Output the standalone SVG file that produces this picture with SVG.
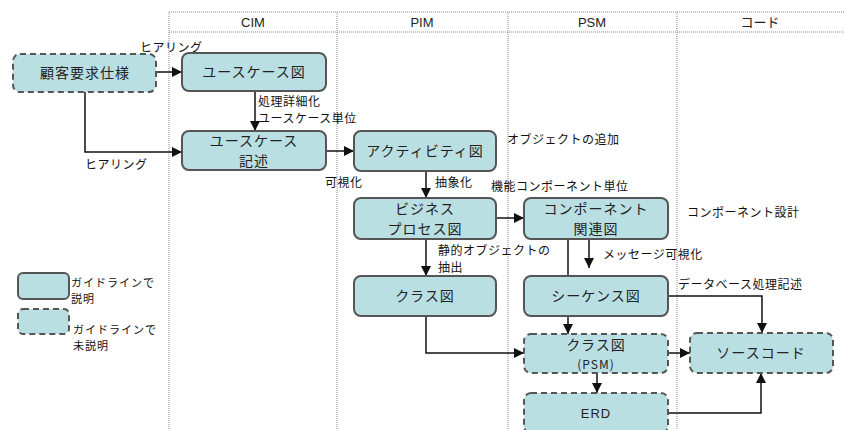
<svg xmlns="http://www.w3.org/2000/svg" width="844" height="430" viewBox="0 0 844 430">
<style>
.grid{stroke:#8a8a8a;stroke-width:1;stroke-dasharray:1 1;fill:none}
.box{fill:#b9dfe2;stroke:#555;stroke-width:2}
.dash{stroke-dasharray:6 4}
.bt{font-family:"Noto Sans CJK JP","Noto Sans",sans-serif;font-size:14px;letter-spacing:1px;fill:#222;text-anchor:middle}
.lb{font-family:"Noto Sans CJK JP","Noto Sans",sans-serif;font-size:12px;letter-spacing:0.5px;fill:#111}
.lg{font-family:"Noto Sans CJK JP","Noto Sans",sans-serif;font-size:11px;letter-spacing:1px;fill:#111}
.hd{font-family:"Liberation Sans","Noto Sans CJK JP",sans-serif;font-size:13px;fill:#222;text-anchor:middle}
.c{fill:none;stroke:#111;stroke-width:1.5}
</style>
<defs>
<marker id="ah" viewBox="0 0 10 10" refX="10" refY="5" markerWidth="10" markerHeight="10" markerUnits="userSpaceOnUse" orient="auto">
<path d="M0,0 L10,5 L0,10 z" fill="#111"/>
</marker>
</defs>
<rect width="844" height="430" fill="#fff"/>
<g id="grid">
<line class="grid" x1="169" y1="12" x2="844" y2="12"/>
<line class="grid" x1="169" y1="32" x2="844" y2="32"/>
<line class="grid" x1="169" y1="12" x2="169" y2="430"/>
<line class="grid" x1="337" y1="12" x2="337" y2="430"/>
<line class="grid" x1="508" y1="12" x2="508" y2="430"/>
<line class="grid" x1="677" y1="12" x2="677" y2="430"/>
<text class="hd" x="253" y="27">CIM</text>
<text class="hd" x="422" y="27">PIM</text>
<text class="hd" x="592" y="27">PSM</text>
<text class="hd" x="760" y="27">コード</text>
</g>
<g id="connectors">
<line class="c" x1="156" y1="72" x2="182" y2="72" marker-end="url(#ah)"/>
<polyline class="c" points="85,92 85,152 182,152" marker-end="url(#ah)"/>
<line class="c" x1="255" y1="91" x2="255" y2="131" marker-end="url(#ah)"/>
<line class="c" x1="326" y1="151" x2="354" y2="151" marker-end="url(#ah)"/>
<line class="c" x1="426" y1="171" x2="426" y2="198" marker-end="url(#ah)"/>
<line class="c" x1="496" y1="218" x2="524" y2="218" marker-end="url(#ah)"/>
<line class="c" x1="426" y1="239" x2="426" y2="276" marker-end="url(#ah)"/>
<line class="c" x1="568" y1="239" x2="568" y2="276"/>
<line class="c" x1="589" y1="239" x2="589" y2="268" marker-end="url(#ah)"/>
<polyline class="c" points="668,296 762,296 762,333" marker-end="url(#ah)"/>
<line class="c" x1="568" y1="316" x2="568" y2="334" marker-end="url(#ah)"/>
<polyline class="c" points="426,316 426,353 524,353" marker-end="url(#ah)"/>
<line class="c" x1="668" y1="353" x2="690" y2="353" marker-end="url(#ah)"/>
<line class="c" x1="597" y1="373" x2="597" y2="393" marker-end="url(#ah)"/>
<polyline class="c" points="668,413 761,413 761,373" marker-end="url(#ah)"/>
</g>
<g id="labels">
<text class="lb" x="140" y="52">ヒアリング</text>
<text class="lb" x="85" y="169">ヒアリング</text>
<text class="lb" x="258" y="106">処理詳細化</text>
<text class="lb" x="258" y="123">ユースケース単位</text>
<text class="lb" x="325" y="187">可視化</text>
<text class="lb" x="435" y="187">抽象化</text>
<text class="lb" x="491" y="191">機能コンポーネント単位</text>
<text class="lb" x="507" y="144">オブジェクトの追加</text>
<text class="lb" x="687" y="217">コンポーネント設計</text>
<text class="lb" x="438" y="255">静的オブジェクトの</text>
<text class="lb" x="438" y="272">抽出</text>
<text class="lb" x="603" y="259">メッセージ可視化</text>
<text class="lb" x="678" y="289">データベース処理記述</text>
</g>
<g id="n-kokyaku"><rect class="box dash" x="13" y="54" width="143" height="38" rx="7"/><text class="bt" x="85" y="78">顧客要求仕様</text></g>
<g id="n-usecase"><rect class="box" x="182" y="53" width="144" height="38" rx="7"/><text class="bt" x="254" y="77">ユースケース図</text></g>
<g id="n-usecase-desc"><rect class="box" x="182" y="131" width="144" height="39" rx="7"/><text class="bt" x="254" y="146">ユースケース</text><text class="bt" x="254" y="166">記述</text></g>
<g id="n-activity"><rect class="box" x="354" y="131" width="142" height="40" rx="7"/><text class="bt" x="425" y="156">アクティビティ図</text></g>
<g id="n-business"><rect class="box" x="354" y="198" width="142" height="41" rx="7"/><text class="bt" x="425" y="214">ビジネス</text><text class="bt" x="425" y="234">プロセス図</text></g>
<g id="n-component"><rect class="box" x="524" y="198" width="144" height="41" rx="7"/><text class="bt" x="596" y="214">コンポーネント</text><text class="bt" x="596" y="234">関連図</text></g>
<g id="n-class"><rect class="box" x="354" y="276" width="142" height="40" rx="7"/><text class="bt" x="425" y="301">クラス図</text></g>
<g id="n-sequence"><rect class="box" x="524" y="276" width="144" height="40" rx="7"/><text class="bt" x="596" y="301">シーケンス図</text></g>
<g id="n-class-psm"><rect class="box dash" x="524" y="334" width="144" height="39" rx="7"/><text class="bt" x="596" y="350">クラス図</text><text class="bt" x="596" y="369" style="font-size:12px">(PSM)</text></g>
<g id="n-source"><rect class="box dash" x="690" y="333" width="143" height="40" rx="7"/><text class="bt" x="761" y="358">ソースコード</text></g>
<g id="n-erd"><rect class="box dash" x="524" y="393" width="144" height="40" rx="7"/><text class="bt" x="596" y="418" style="font-family:'Liberation Sans',sans-serif;font-size:13px">ERD</text></g>
<g id="legend">
<rect class="box" x="18" y="273" width="51" height="26" rx="5"/>
<text class="lg" x="71" y="287">ガイドラインで</text>
<text class="lg" x="71" y="303">説明</text>
<rect class="box dash" x="18" y="309" width="51" height="25" rx="5"/>
<text class="lg" x="73" y="334">ガイドラインで</text>
<text class="lg" x="73" y="350">未説明</text>
</g>
</svg>
